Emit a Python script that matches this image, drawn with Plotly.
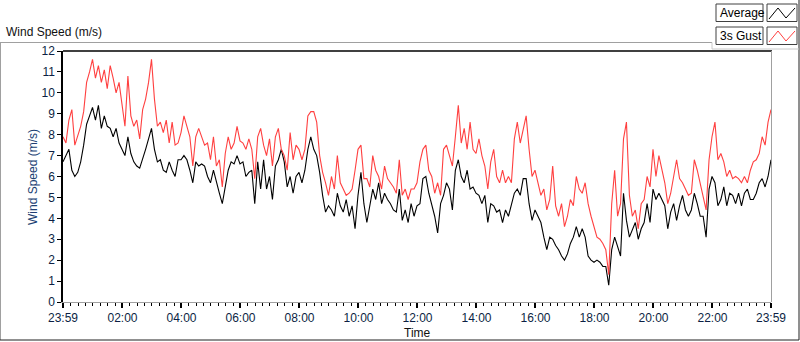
import plotly.graph_objects as go

# ---- data (m/s), one sample every 6 minutes from 23:59 to 23:59 ----
SAMPLE_MIN = 6
average = [
    6.7,7.0,7.3,6.3,6.0,6.2,6.7,7.5,8.5,8.9, 9.3,8.7,9.4,8.3,8.9,8.4,8.3,7.9,8.3,7.6,
    7.3,7.0,7.9,7.1,6.7,6.5,6.4,6.8,7.3,7.8, 8.3,7.3,6.7,6.8,6.3,6.2,6.7,6.3,6.0,6.8,
    6.8,7.0,6.8,6.3,5.7,6.7,6.5,6.6,6.5,6.0, 5.7,6.3,5.7,5.2,4.7,5.5,6.3,6.7,6.6,7.0,
    6.6,
    6.7,6.0,6.2,6.3,4.7,6.7,5.4,6.8,5.4,6.0, 4.9,6.5,6.8,7.3,6.7,5.5,6.0,5.2,6.0,6.2,
    5.7,6.3,7.3,7.9,7.3,7.0,6.2,5.1,4.3,4.6, 4.4,4.1,5.2,4.6,4.3,4.9,4.1,4.6,3.5,5.1,
    6.2,4.7,3.8,4.6,5.4,4.9,5.7,4.7,5.2,4.9, 4.7,4.4,4.3,5.4,3.9,4.4,3.8,4.7,
    4.1,4.6,4.7,5.9,6.0,5.2,4.7,4.1,3.3,4.7, 5.1,5.7,5.4,4.4,6.3,6.8,6.0,5.7,6.3,5.4,
    5.5,5.2,5.1,4.7,5.1,3.8,4.7,4.6,4.3,4.4, 3.8,4.4,4.1,4.6,5.2,5.4,5.1,5.9,5.9,4.7,
    3.9,4.4,4.1,3.8,3.1,2.5,3.1,3.0,2.7,2.5, 2.2,2.0,2.3,2.8,3.1,3.6,3.1,
    3.5,3.1,2.2,2.0,1.9,2.0,1.9,1.7,1.7,0.8, 2.5,3.1,2.7,2.2,5.2,3.9,3.1,3.5,3.8,3.0,
    3.5,3.8,4.7,3.8,5.4,4.9,5.2,4.9,4.6,3.5, 4.3,4.7,3.9,4.6,5.1,4.4,4.1,4.4,5.2,4.7,
    4.1,4.1,3.1,5.4,6.0,5.7,4.6,4.9,5.5,4.6, 5.2,5.1,4.7,5.2,4.6,5.2,5.4,4.9,4.9,5.2,
    5.7,5.9,5.5,6.0,6.8,
]
gust = [
    7.9,7.6,8.7,9.2,7.5,7.9,8.4,9.1,10.5,11.0, 11.6,10.7,11.3,10.5,11.1,10.2,11.3,10.7,10.0,10.5,
    9.5,8.4,10.8,8.9,8.4,8.7,7.8,9.2,9.7,10.5, 11.6,9.7,8.4,8.6,8.1,8.7,7.6,8.6,7.5,7.6,
    8.1,8.9,8.4,7.9,6.5,7.9,8.3,7.9,7.5,7.6, 6.8,7.9,6.5,6.8,5.5,7.1,7.9,7.3,7.6,8.4,
    7.7,
    7.6,7.3,7.8,7.3,5.9,7.9,8.3,7.5,7.0,7.8, 6.5,7.9,8.3,7.3,7.0,6.3,8.1,6.8,7.5,7.3,
    6.8,7.3,8.9,9.1,9.1,8.6,7.0,6.2,5.7,5.1, 6.0,5.4,7.0,5.7,5.4,5.1,5.2,5.4,6.3,7.3,
    7.5,5.9,5.9,5.5,7.0,6.3,6.0,5.4,6.5,5.9, 5.7,5.5,5.2,6.8,5.1,5.4,4.9,5.4,
    5.4,5.7,6.7,7.3,7.5,6.3,6.0,5.2,5.7,5.1, 7.3,7.5,7.0,6.5,7.9,9.4,7.6,8.3,7.3,8.6,
    7.3,7.1,7.8,7.0,6.5,5.4,6.7,7.3,6.0,5.7, 6.3,5.7,6.0,5.7,7.8,8.6,7.6,8.3,8.9,7.3,
    6.0,6.3,5.7,5.1,5.4,4.4,4.9,6.5,4.6,4.1, 4.7,3.6,4.1,4.9,4.6,6.0,5.4,
    5.2,5.7,4.7,4.1,3.6,3.1,3.0,2.8,2.5,1.3, 4.7,6.3,4.1,4.7,7.8,8.6,5.1,4.1,4.4,3.5,
    4.7,4.9,6.0,5.5,7.3,6.0,7.0,6.3,5.7,4.7, 5.2,6.0,6.8,5.9,5.7,5.4,5.1,5.2,6.8,6.3,
    5.7,5.1,4.4,6.8,7.9,8.6,6.8,7.1,6.7,6.0, 6.3,5.9,6.0,5.9,5.7,6.0,5.7,6.3,6.7,6.8,
    7.1,7.9,7.5,8.6,9.2,
]
tick_minutes = [0, 121, 241, 361, 481, 601, 721, 841, 961, 1081, 1201, 1321, 1440]
tick_labels = ["23:59", "02:00", "04:00", "06:00", "08:00", "10:00", "12:00",
               "14:00", "16:00", "18:00", "20:00", "22:00", "23:59"]
series_names = ["Average", "3s Gust"]
series_colors = ["#000000", "#ff4040"]

minutes = [i * SAMPLE_MIN for i in range(len(average))]

W, H = 800, 342
L, R, T, B = 63, 771, 51, 302
FONT = "Liberation Sans"
LBL = "#0c1f44"

def px(x):
    return (x - L) / (R - L)

def py(y):
    return (B - y) / (B - T)

fig = go.Figure()
for name, vals, col in zip(series_names, [average, gust], series_colors):
    fig.add_trace(go.Scatter(x=minutes, y=vals, mode="lines", name=name,
                             line=dict(color=col, width=1.1), showlegend=False,
                             hoverinfo="skip"))

shapes = []
def line(x0, y0, x1, y1, color, width=1):
    shapes.append(dict(type="line", xref="paper", yref="paper",
                       x0=px(x0), y0=py(y0), x1=px(x1), y1=py(y1),
                       line=dict(color=color, width=width), layer="above"))

def rect(x0, y0, x1, y1, line_color, fill):
    shapes.append(dict(type="rect", xref="paper", yref="paper",
                       x0=px(x0), y0=py(y0), x1=px(x1), y1=py(y1),
                       line=dict(color=line_color, width=1), fillcolor=fill, layer="above"))

# outer frame
line(0, 42.5, 712, 42.5, "#a0a0a0")
line(0.5, 42.5, 0.5, 340, "#a0a0a0")
line(0, 340, 799, 340, "#202020")
line(799, 0, 799, 340, "#202020")
# plot frame (top/right)
line(L, T, R + 1, T, "#000000", 1.5)
line(R + 0.5, T, R + 0.5, B, "#a0a0a0")
# legend panel
line(712, 49, 799, 49, "#c8c8c8")
line(712, 42.5, 712, 49, "#c8c8c8")
annotations = []
for k, (name, col) in enumerate(zip(series_names, series_colors)):
    y0 = 4 + k * 23
    rect(716, y0, 763, y0 + 17.5, "#404040", "#ffffff")
    rect(767, y0, 797, y0 + 17.5, "#404040", "#ffffff")
    ys = [y0 + 15, y0 + 4, y0 + 14, y0 + 4]
    xs = [769, 778, 786, 795]
    path = "M " + " L ".join(f"{px(a)},{py(b)}" for a, b in zip(xs, ys))
    shapes.append(dict(type="path", xref="paper", yref="paper", path=path,
                       line=dict(color=col, width=1), layer="above"))
    annotations.append(dict(text=name, xref="paper", yref="paper",
                            x=px(718), y=py(y0 + 9), xanchor="left", yanchor="middle",
                            showarrow=False, font=dict(family=FONT, size=12, color="#000")))

annotations.append(dict(text="Wind Speed (m/s)", xref="paper", yref="paper",
                        x=px(4), y=py(32), xanchor="left", yanchor="middle",
                        showarrow=False, font=dict(family=FONT, size=12, color="#111")))
annotations.append(dict(text="Wind Speed (m/s)", xref="paper", yref="paper",
                        x=px(33), y=py(177), xanchor="center", yanchor="middle",
                        textangle=-90, showarrow=False,
                        font=dict(family=FONT, size=12, color="#203f73")))
annotations.append(dict(text="Time", xref="paper", yref="paper",
                        x=px(418), y=py(333), xanchor="center", yanchor="middle",
                        showarrow=False, font=dict(family=FONT, size=12, color="#111")))

fig.update_layout(
    width=W, height=H,
    margin=dict(l=L, r=W - R, t=T, b=H - B, autoexpand=False),
    paper_bgcolor="#ffffff", plot_bgcolor="#ffffff",
    shapes=shapes, annotations=annotations, showlegend=False,
    xaxis=dict(range=[0, 1440], tickvals=tick_minutes, ticktext=tick_labels,
               automargin=False,
               showgrid=False, zeroline=False, showline=True, linecolor="#a0a0a0",
               linewidth=1, ticks="outside", ticklen=5, tickwidth=2, tickcolor="#000",
               tickfont=dict(family=FONT, size=12, color=LBL),
               minor=dict(dtick=15, tick0=1, ticks="outside", ticklen=3,
                          tickwidth=1, tickcolor="#000", showgrid=False)),
    yaxis=dict(range=[0, 12], tickvals=list(range(13)), showgrid=False, zeroline=False,
               automargin=False,
               showline=True, linecolor="#000", linewidth=1.5, ticks="outside",
               ticklen=4, tickwidth=1, tickcolor="#000",
               tickfont=dict(family=FONT, size=12, color=LBL)),
)

fig.write_html("out.html", config={"displayModeBar": False},
               post_script="document.body.style.margin='0';document.body.style.overflow='hidden';")
